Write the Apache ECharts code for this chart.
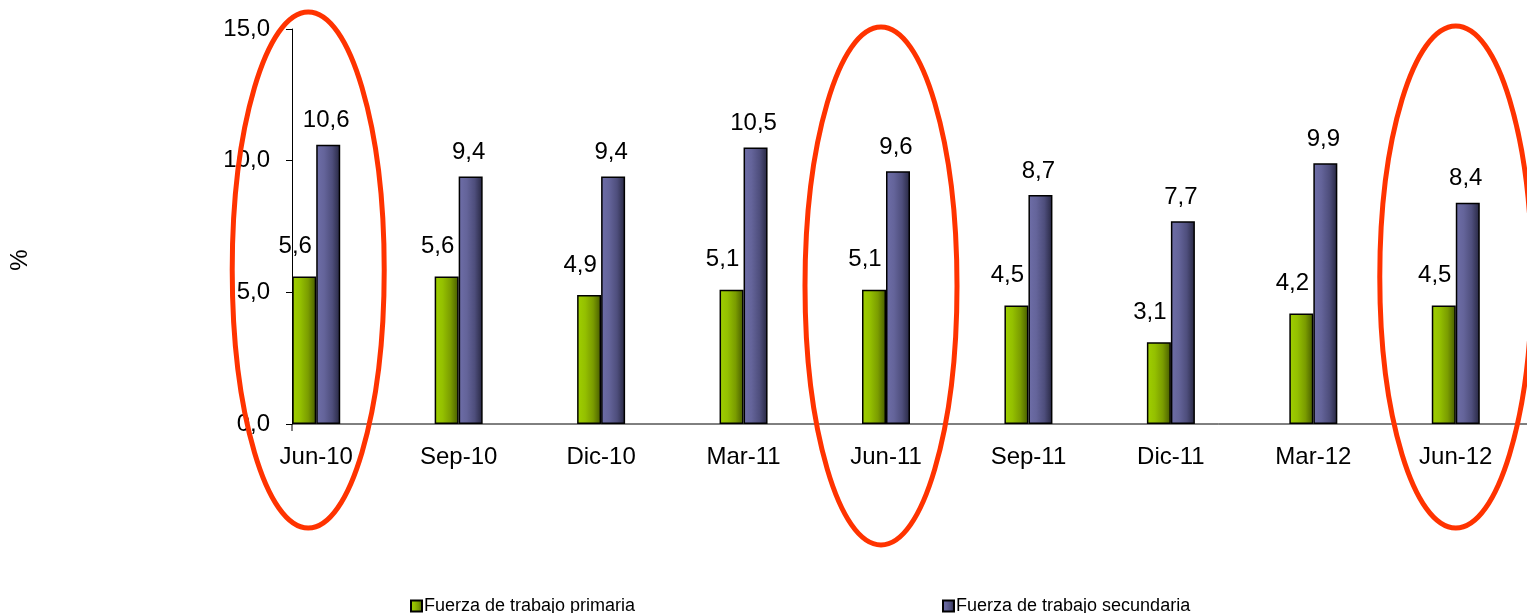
<!DOCTYPE html>
<html>
<head>
<meta charset="utf-8">
<script src="https://cdn.jsdelivr.net/npm/echarts@6/dist/echarts.min.js"></script>
<style>
  html, body { margin: 0; padding: 0; background: #fff; }
  #chart { width: 1527px; height: 613px; }
</style>
</head>
<body>
<div id="chart"></div>
<script>
const categories = ['Jun-10', 'Sep-10', 'Dic-10', 'Mar-11', 'Jun-11', 'Sep-11', 'Dic-11', 'Mar-12', 'Jun-12'];
const primaria = [5.6, 5.6, 4.9, 5.1, 5.1, 4.5, 3.1, 4.2, 4.5];
const secundaria = [10.6, 9.4, 9.4, 10.5, 9.6, 8.7, 7.7, 9.9, 8.4];
const highlighted = ['Jun-10', 'Jun-11', 'Jun-12'];
const seriesNames = ['Fuerza de trabajo primaria', 'Fuerza de trabajo secundaria'];

const font = 'Liberation Sans, Arial, sans-serif';
const fmt = v => v.toFixed(1).replace('.', ',');

// hand-drawn ellipse shapes (pixel tweaks relative to category centre)
const ellipseStyle = [
    {dx: -8, cy: 270, rx: 76, ry: 258},
    {dx: -5, cy: 286, rx: 76, ry: 259},
    {dx: 0, cy: 277, rx: 76, ry: 251}
];

const gridLeft = 245;
const yAxisShift = 47;

function grad(stops) {
    return new echarts.graphic.LinearGradient(0, 0, 1, 0,
        stops.map((c, i) => ({offset: i / (stops.length - 1), color: c})));
}

const chart = echarts.init(document.getElementById('chart'));

const option = {
    animation: false,
    grid: {left: gridLeft, right: 0, top: 29, bottom: 189},
    xAxis: {
        type: 'category',
        data: categories,
        axisLine: {show: false},
        axisTick: {show: false},
        axisLabel: {color: '#000', fontSize: 24, fontFamily: font, margin: 21}
    },
    yAxis: {
        type: 'value',
        min: 0,
        max: 15,
        interval: 5,
        offset: -yAxisShift,
        axisLine: {show: true, lineStyle: {color: '#000', width: 1}},
        axisTick: {show: true, length: 6, lineStyle: {color: '#000'}},
        splitLine: {show: false},
        axisLabel: {color: '#000', fontSize: 24, fontFamily: font, margin: 22, formatter: fmt}
    },
    legend: [
        {
            data: [seriesNames[0]],
            left: 405, top: 592, icon: 'rect',
            itemWidth: 11, itemHeight: 11, itemGap: 0,
            textStyle: {color: '#000', fontSize: 18, fontFamily: font, padding: [0, 0, 0, -3]}
        },
        {
            data: [seriesNames[1]],
            left: 937, top: 592, icon: 'rect',
            itemWidth: 11, itemHeight: 11, itemGap: 0,
            textStyle: {color: '#000', fontSize: 18, fontFamily: font, padding: [0, 0, 0, -3]}
        }
    ],
    series: [
        {
            name: seriesNames[0],
            type: 'bar',
            data: primaria,
            barWidth: 24,
            barGap: '0%',
            itemStyle: {color: grad(['#a0d000', '#94c000', '#7a9c00', '#465a00']), borderColor: '#000', borderWidth: 1.5},
            label: {
                show: true, position: 'top', distance: 18, offset: [-9, 0],
                color: '#000', fontSize: 24, fontFamily: font,
                formatter: p => fmt(p.value)
            }
        },
        {
            name: seriesNames[1],
            type: 'bar',
            data: secundaria,
            barWidth: 24,
            barGap: '0%',
            itemStyle: {color: grad(['#6e6ea8', '#64649a', '#4e4e7c', '#262640']), borderColor: '#000', borderWidth: 1.5},
            label: {
                show: true, position: 'top', distance: 12, offset: [-2, 0],
                color: '#000', fontSize: 24, fontFamily: font,
                formatter: p => fmt(p.value)
            }
        }
    ]
};

chart.setOption(option);

const axisX = gridLeft + yAxisShift;
const y0 = chart.convertToPixel({yAxisIndex: 0}, 0);

const graphics = [
    // x axis line starts at the shifted y axis
    {
        type: 'line',
        shape: {x1: axisX, y1: y0, x2: 1527, y2: y0},
        style: {stroke: '#000', lineWidth: 1}
    },
    {
        type: 'line',
        shape: {x1: axisX, y1: y0, x2: axisX, y2: y0 + 7},
        style: {stroke: '#000', lineWidth: 1}
    },
    {
        type: 'text',
        x: 20, y: 260, rotation: Math.PI / 2,
        style: {text: '%', fill: '#000', font: '24px ' + font, align: 'center', verticalAlign: 'middle'}
    }
];

highlighted.forEach((c, i) => {
    const x = chart.convertToPixel({xAxisIndex: 0}, c);
    const e = ellipseStyle[i];
    graphics.push({
        type: 'ellipse',
        shape: {cx: x + e.dx, cy: e.cy, rx: e.rx, ry: e.ry},
        style: {fill: 'none', stroke: '#ff3300', lineWidth: 5},
        z: 100
    });
});

chart.setOption({graphic: graphics});
</script>
</body>
</html>
